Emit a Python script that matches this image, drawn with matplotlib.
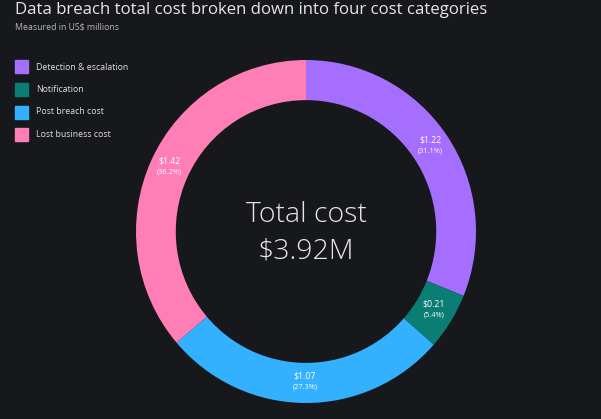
import numpy as np
import matplotlib.pyplot as plt

# Data (US$ millions)
categories = ['Detection & escalation', 'Notification', 'Post breach cost', 'Lost business cost']
costs = [1.22, 0.21, 1.07, 1.42]
shares = [31.1, 5.4, 27.3, 36.2]
colors = ['#a56eff', '#0a7d74', '#33b1ff', '#ff7eb6']
total = 3.92

bg = '#17181b'
plt.rcParams['font.family'] = ['Open Sans', 'DejaVu Sans']

fig = plt.figure(figsize=(6.01, 4.19), dpi=100, facecolor=bg)

# Title and subtitle
fig.text(15 / 601, 1 - 10 / 419, 'Data breach total cost broken down into four cost categories',
         color='#e6e6e6', fontsize=12.1, va='center', ha='left')
fig.text(15 / 601, 1 - 27 / 419, 'Measured in US$ millions',
         color='#b8b8b8', fontsize=6.3, va='center', ha='left')

# Legend drawn as squares + labels
for i, (cat, col) in enumerate(zip(categories, colors)):
    y = 1 - (67 + i * 22.5) / 419
    fig.patches.append(plt.Rectangle((15 / 601, y - 6.5 / 419), 13 / 601, 13 / 419,
                                     transform=fig.transFigure, color=col, figure=fig))
    fig.text(36 / 601, y, cat, color='#e0e0e0', fontsize=6.3, va='center', ha='left')

# Donut: outer box roughly x 136..476, y 60..403 px
ax = fig.add_axes([136 / 601, 1 - 403 / 419, 340 / 601, 343 / 419])
ax.set_facecolor(bg)
ring = 40 / 171

wedges, texts = ax.pie(costs, colors=colors, startangle=90, counterclock=False,
                       radius=1, wedgeprops=dict(width=ring, linewidth=0))
for w, c, s in zip(wedges, costs, shares):
    ang = np.deg2rad((w.theta1 + w.theta2) / 2)
    r = 1 - ring / 2
    x, y = r * np.cos(ang), r * np.sin(ang)
    ax.text(x, y + 0.015, f'${c:.2f}', color='white',
            fontsize=6.3, ha='center', va='bottom')
    ax.text(x, y - 0.005, f'({s:.1f}%)', color='white',
            fontsize=5.3, ha='center', va='top')

ax.text(0, 0.095, 'Total cost', color='#e6e6e6', fontsize=20.5, ha='center', va='center',
        fontweight='light')
ax.text(0, -0.115, f'${total:.2f}M', color='#e6e6e6', fontsize=20.5, ha='center', va='center',
        fontweight='light')
ax.set_xlim(-1, 1)
ax.set_ylim(-1, 1)
ax.set_aspect('auto')
ax.axis('off')

fig.savefig('out.png', dpi=100, facecolor=bg)
